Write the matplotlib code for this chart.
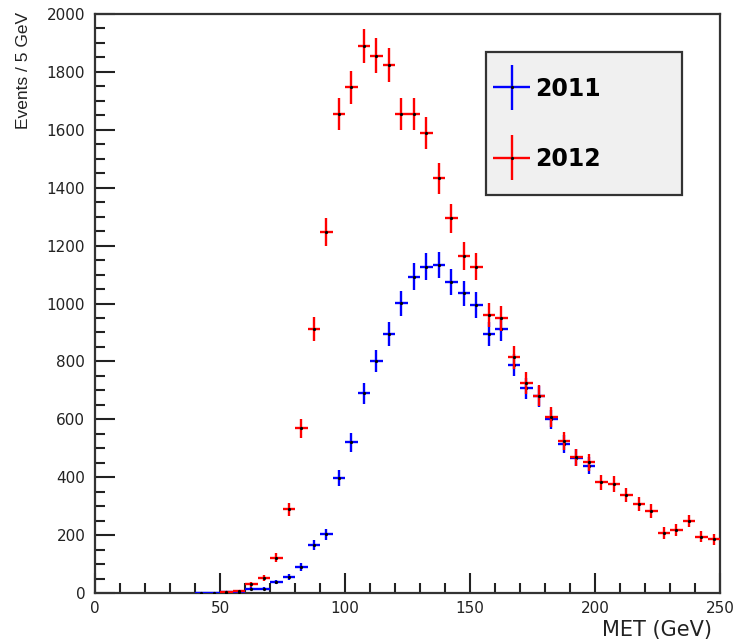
import matplotlib
matplotlib.use("Agg")
import matplotlib.pyplot as plt
from matplotlib.legend_handler import HandlerErrorbar
from matplotlib.patches import Rectangle
from matplotlib.ticker import MultipleLocator
import numpy as np

# --- data: MET distribution, 5 GeV bins (bin centres) ---
bin_width = 5.0
event_weight = 1.9  # weighted events -> error = sqrt(w * content)

met_2011 = np.array([42.5, 47.5, 52.5, 57.5, 62.5, 67.5, 72.5, 77.5, 82.5, 87.5,
                     92.5, 97.5, 102.5, 107.5, 112.5, 117.5, 122.5, 127.5, 132.5, 137.5,
                     142.5, 147.5, 152.5, 157.5, 162.5, 167.5, 172.5, 177.5, 182.5, 187.5,
                     192.5, 197.5])
events_2011 = np.array([1, 1, 2, 3, 14, 14, 38, 56, 90, 166,
                        203, 396, 520, 690, 801, 894, 1001, 1093, 1127, 1133,
                        1074, 1035, 995, 894, 912, 788, 707, 680, 600, 515,
                        468, 440])

met_2012 = np.array([52.5, 57.5, 62.5, 67.5, 72.5, 77.5, 82.5, 87.5, 92.5, 97.5,
                     102.5, 107.5, 112.5, 117.5, 122.5, 127.5, 132.5, 137.5, 142.5, 147.5,
                     152.5, 157.5, 162.5, 167.5, 172.5, 177.5, 182.5, 187.5, 192.5, 197.5,
                     202.5, 207.5, 212.5, 217.5, 222.5, 227.5, 232.5, 237.5, 242.5, 247.5])
events_2012 = np.array([4, 7, 30, 51, 122, 289, 569, 911, 1248, 1655,
                        1747, 1889, 1856, 1824, 1655, 1655, 1590, 1432, 1294, 1164,
                        1127, 960, 949, 814, 726, 682, 607, 526, 469, 451,
                        382, 376, 338, 306, 283, 208, 218, 249, 195, 185])

# --- figure ---
fig = plt.figure(figsize=(7.38, 6.43), dpi=100)
ax = fig.add_axes([95 / 738, 50 / 643, 625 / 738, 579 / 643])

ax.errorbar(met_2011, events_2011, xerr=bin_width / 2,
            yerr=np.sqrt(event_weight * events_2011),
            fmt='o', ms=1.3, mfc='k', mec='k', ecolor='blue', elinewidth=1.7,
            capsize=0, label='2011', zorder=3)
ax.errorbar(met_2012, events_2012, xerr=bin_width / 2,
            yerr=np.sqrt(event_weight * events_2012),
            fmt='o', ms=1.3, mfc='k', mec='k', ecolor='red', elinewidth=1.7,
            capsize=0, label='2012', zorder=4)

ax.set_xlim(0, 250)
ax.set_ylim(0, 2000)

# ROOT-like axes: ticks inside, only on bottom/left
ax.xaxis.set_major_locator(MultipleLocator(50))
ax.xaxis.set_minor_locator(MultipleLocator(10))
ax.yaxis.set_major_locator(MultipleLocator(200))
ax.yaxis.set_minor_locator(MultipleLocator(50))
ax.tick_params(which='both', direction='in', top=False, right=False,
               color='#222', width=1.5, labelsize=11, labelcolor='#222')
ax.tick_params(which='major', length=14.5)
ax.tick_params(which='minor', length=7.5)
ax.tick_params(axis='y', pad=7)
ax.tick_params(axis='x', pad=6)
for s in ax.spines.values():
    s.set_linewidth(1.6)
    s.set_color('#333')

ax.set_xlabel('MET (GeV)', loc='right', fontsize=15, color='#222')
ax.xaxis.set_label_coords(0.987, -0.046)
ax.set_ylabel('Events / 5 GeV', loc='top', fontsize=12.5, color='#222',
              family='Liberation Sans')
ax.yaxis.set_label_coords(-0.102, 1.0035)

# legend box
ax.add_patch(Rectangle((0.6256, 0.6874), 0.3136, 0.247, transform=ax.transAxes,
                       facecolor='#f0f0f0', edgecolor='#333', lw=1.6, zorder=5))
leg = ax.legend(loc='upper left', bbox_to_anchor=(0.637, 0.892), frameon=False,
                borderpad=0, borderaxespad=0, handlelength=1.56, handletextpad=0.2,
                labelspacing=1.975, prop={'size': 17, 'weight': 'bold'},
                handler_map={type(ax.containers[0]): HandlerErrorbar(xerr_size=0.78, yerr_size=0.95)})
leg.set_zorder(6)

fig.savefig('out.png', dpi=100)
